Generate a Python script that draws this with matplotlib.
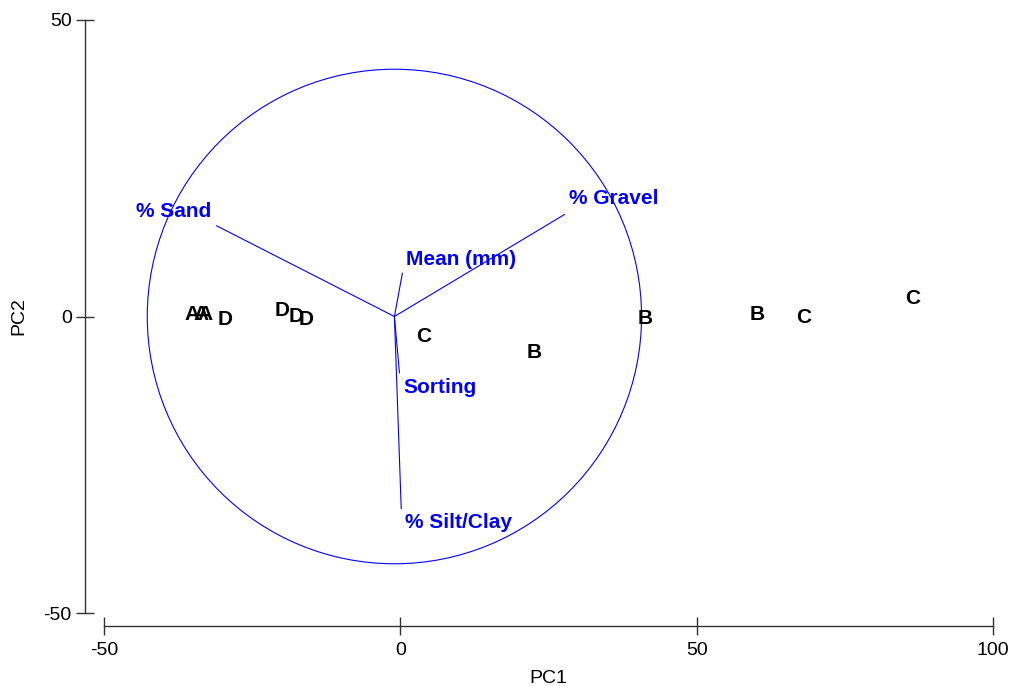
import matplotlib
matplotlib.use("Agg")
import matplotlib.pyplot as plt
from matplotlib.patches import Circle

plt.rcParams['font.family'] = ['Liberation Sans', 'DejaVu Sans']
plt.rcParams['axes.unicode_minus'] = False

# sample scores (PC1, PC2) with group labels
sample_labels = ['A', 'A', 'A', 'D', 'D', 'D', 'D', 'C', 'B', 'B', 'B', 'C', 'C']
pc1 = [-35.2, -33.7, -32.9, -29.5, -19.9, -17.5, -15.9, 4.0, 22.6, 41.3, 60.2, 68.1, 86.5]
pc2 = [0.7, 0.7, 0.7, -0.2, 1.3, 0.3, -0.2, -3.0, -5.7, 0.0, 0.7, 0.2, 3.4]

# variable vectors
var_names = ['% Sand', '% Gravel', 'Mean (mm)', 'Sorting', '% Silt/Clay']
vec_x = [-31.0, 27.7, 0.35, -0.15, 0.15]
vec_y = [15.3, 17.2, 7.3, -9.5, -32.4]

origin = (-1.0, 0.0)
circle_radius = 41.7

# label placement relative to the vector tip (pixels)
label_offsets = [(-5, 14, 'right'), (4, 16, 'left'), (4, 14, 'left'), (4, -15, 'left'), (4, -14, 'left')]

fig = plt.figure(figsize=(10.13, 6.86), dpi=100)
ax = fig.add_axes([104 / 1013, 1 - 613 / 686, (993 - 104) / 1013, (613 - 20) / 686])
ax.set_xlim(-50, 100)
ax.set_ylim(-50, 50)

# circle
ax.add_patch(Circle(origin, circle_radius, fill=False, edgecolor='#0000ff', linewidth=0.8))

# vectors and their labels
for name, vx, vy, (dx, dy, ha) in zip(var_names, vec_x, vec_y, label_offsets):
    ax.plot([origin[0], vx], [origin[1], vy], color='#0000ff', linewidth=0.8)
    ax.annotate(name, (vx, vy), xytext=(dx, dy), textcoords='offset pixels',
                ha=ha, va='center', color='#0000ff', fontsize=15, fontweight='bold')

# samples
for lab, x, y in zip(sample_labels, pc1, pc2):
    ax.text(x, y, lab, ha='center', va='center_baseline', fontsize=15, fontweight='bold', color='black')

# axes styling
for s in ['top', 'right']:
    ax.spines[s].set_visible(False)
ax.spines['left'].set_position(('outward', 19 * 72 / 100))
ax.spines['bottom'].set_position(('outward', 13 * 72 / 100))
for s in ['left', 'bottom']:
    ax.spines[s].set_color('#333333')
    ax.spines[s].set_linewidth(1.0)

ax.set_xticks([-50, 0, 50, 100])
ax.set_yticks([-50, 0, 50])
ax.tick_params(direction='inout', length=13, width=1.0, color='#333333', labelsize=14, pad=3)
ax.tick_params(axis='x', pad=5)
ax.set_xlabel('PC1', fontsize=14, labelpad=8)
ax.set_ylabel('PC2', fontsize=14, labelpad=12)

fig.savefig('out.png', dpi=100)
